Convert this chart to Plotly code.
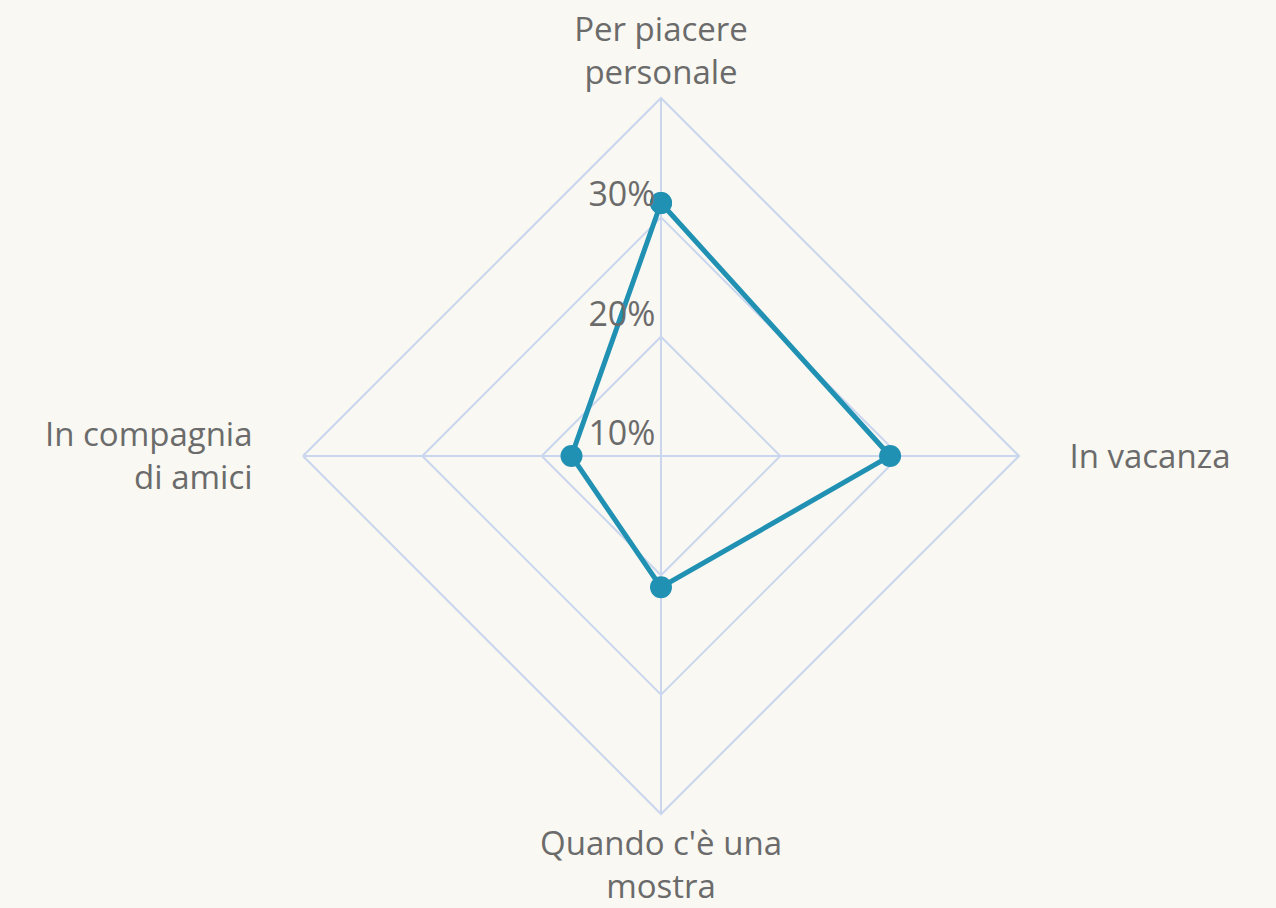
import plotly.graph_objects as go

categories = ["Per piacere<br>personale", "In vacanza", "Quando c'è una<br>mostra", "In compagnia<br>di amici"]
values = [31.2, 29.2, 21.0, 17.5]
tick_vals = [10, 20, 30]
tick_text = ["10%", "20%", "30%"]
r_range = [10, 40]

BG = "#f9f8f2"
GRID = "#cad6ee"
TEXT = "#6b6b6b"
LINE = "#2191b3"

# horizontal padding for the side labels (styling only)
PAD = "&nbsp;" * 5
ang_text = [
    categories[0],
    PAD + categories[1],
    categories[2],
    "<br>".join(s + PAD for s in categories[3].split("<br>")),
]
rad_text = [t + "<br>&nbsp;" for t in tick_text]

fig = go.Figure()
fig.add_trace(go.Scatterpolar(
    r=values + values[:1],
    theta=categories + categories[:1],
    mode="lines+markers",
    line=dict(color=LINE, width=5),
    marker=dict(color=LINE, size=22),
    hoverinfo="skip",
    showlegend=False,
))

fig.update_layout(
    width=1276, height=908,
    paper_bgcolor=BG, plot_bgcolor=BG,
    margin=dict(l=100, r=54, t=98, b=94),
    font=dict(family="Open Sans, Noto Sans, sans-serif", color=TEXT, size=33),
    polar=dict(
        bgcolor=BG,
        gridshape="linear",
        domain=dict(x=[0, 1], y=[0, 1]),
        radialaxis=dict(
            range=r_range,
            tickvals=tick_vals,
            ticktext=rad_text,
            angle=90,
            tickangle=90,
            side="counterclockwise",
            showline=False,
            ticks="",
            gridcolor=GRID,
            gridwidth=2,
            tickfont=dict(size=34, color=TEXT),
        ),
        angularaxis=dict(
            direction="clockwise",
            rotation=90,
            tickmode="array",
            tickvals=categories,
            ticktext=ang_text,
            gridcolor=GRID,
            gridwidth=2,
            linecolor=GRID,
            linewidth=2,
            showline=True,
            ticks="",
            tickfont=dict(size=33, color=TEXT),
        ),
    ),
)

fig.write_html(
    "out.html",
    config={"displayModeBar": False},
    post_script="document.body.style.margin='0';document.body.style.background='" + BG + "';",
)
